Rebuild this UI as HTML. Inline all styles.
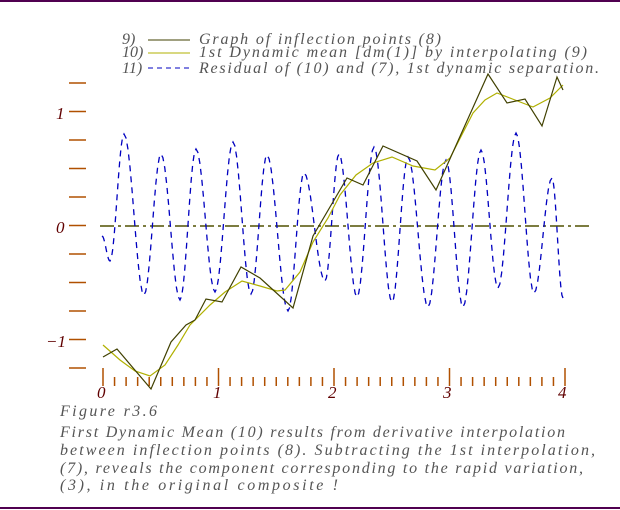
<!DOCTYPE html>
<html><head><style>
body{margin:0;background:#fff;}
svg{display:block;}
text{font-family:"Liberation Serif",serif;font-style:italic;}
</style></head><body>
<svg id="s" width="620" height="510" viewBox="0 0 620 510" xmlns="http://www.w3.org/2000/svg">
<line x1="0" y1="1" x2="620" y2="1" stroke="#500050" stroke-width="2"/>
<line x1="0" y1="508" x2="620" y2="508" stroke="#500050" stroke-width="2"/>
<g fill="#555" font-size="16">
<text x="122" y="44">9)</text>
<text x="122" y="57">10)</text>
<text x="122" y="73">11)</text>
<text x="199" y="44" textLength="242" lengthAdjust="spacing">Graph of inflection points (8)</text>
<text x="199" y="57" textLength="388" lengthAdjust="spacing">1st Dynamic mean [dm(1)] by interpolating (9)</text>
<text x="199" y="73" textLength="400" lengthAdjust="spacing">Residual of (10) and (7), 1st dynamic separation.</text>
</g>
<line x1="148" y1="40" x2="190" y2="40" stroke="#404000"/>
<line x1="148" y1="53" x2="190" y2="53" stroke="#b0b000"/>
<line x1="148" y1="68" x2="190" y2="68" stroke="#0000c0" stroke-dasharray="5,4"/>
<g id="yt" stroke="#b05000" stroke-width="1.5"></g>
<g fill="#600000" font-size="17">
<text x="56" y="119">1</text>
<text x="56" y="233">0</text>
<text x="46" y="347">−1</text>
<text x="97" y="398">0</text>
<text x="213" y="398">1</text>
<text x="328" y="398">2</text>
<text x="443" y="398">3</text>
<text x="558" y="398">4</text>
</g>
<g id="xt" stroke="#b05000" stroke-width="1.5"></g>
<line x1="100" y1="226" x2="592" y2="226" stroke="#505000" stroke-width="1.5" stroke-dasharray="14,4,3,4"/>
<path id="blue" fill="none" stroke="#0000c0" stroke-width="1.3" stroke-dasharray="6,5"/>
<polyline fill="none" stroke="#b0b000" stroke-width="1.2" points="103,345 120,360 135,371 150,376 165,365 178,345 190,325 210,305 225,292 242,281 260,286 277,291 285,290 300,272 313,242 328,218 340,195 356,175 373,163 392,157 413,166 435,170 450,158 473,113 485,100 497,93 515,100 533,107 550,98 563,85"/>
<polyline fill="none" stroke="#404000" stroke-width="1.2" points="103,357 117,349 151,389 171,342 186,325 195,320 206,299 222,302 241,267 260,278 293,308 313,236 347,178 363,185 383,146 417,161 436,190 488,74 507,103 525,99 542,126 557,77 563,90"/>
<g fill="#555" font-size="16">
<text x="60" y="416" textLength="97" lengthAdjust="spacing">Figure r3.6</text>
<text x="60" y="437" textLength="505" lengthAdjust="spacing">First Dynamic Mean (10) results from derivative interpolation</text>
<text x="60" y="455" textLength="535" lengthAdjust="spacing">between inflection points (8).    Subtracting the 1st interpolation,</text>
<text x="60" y="473" textLength="523" lengthAdjust="spacing">(7), reveals the component corresponding to the rapid variation,</text>
<text x="60" y="490" textLength="278" lengthAdjust="spacing">(3), in the original composite !</text>
</g>
</svg>
<script>
var ns="http://www.w3.org/2000/svg";
var yt=document.getElementById("yt");
for(var i=0;i<11;i++){var y=83+i*28.5;var l=document.createElementNS(ns,"line");l.setAttribute("x1",69);l.setAttribute("x2",86);l.setAttribute("y1",y);l.setAttribute("y2",y);yt.appendChild(l);}
var xt=document.getElementById("xt");
for(var i=0;i<=40;i++){var x=103+i*11.55;var l=document.createElementNS(ns,"line");l.setAttribute("x1",x);l.setAttribute("x2",x);l.setAttribute("y1",i%10==0?368:377);l.setAttribute("y2",386);xt.appendChild(l);}
var e=[[102,236],[110,261],[124,134],[144,295],[161,154],[180,300],[196,149],[215,292],[233,142],[251,294],[267,155],[288,311],[304,173],[325,281],[339,154],[357,297],[374,147],[392,302],[408,157],[428,307],[446,160],[463,307],[481,150],[498,288],[516,133],[534,293],[552,178],[563,298]];
var d="M"+e[0][0]+","+e[0][1];
for(var k=0;k<e.length-1;k++){var a=e[k],b=e[k+1];for(var j=1;j<=10;j++){var t=j/10;var s=(1-Math.cos(Math.PI*t))/2;d+=" L"+(a[0]+(b[0]-a[0])*t).toFixed(1)+","+(a[1]+(b[1]-a[1])*s).toFixed(1);}}
document.getElementById("blue").setAttribute("d",d);
</script>
</body></html>
